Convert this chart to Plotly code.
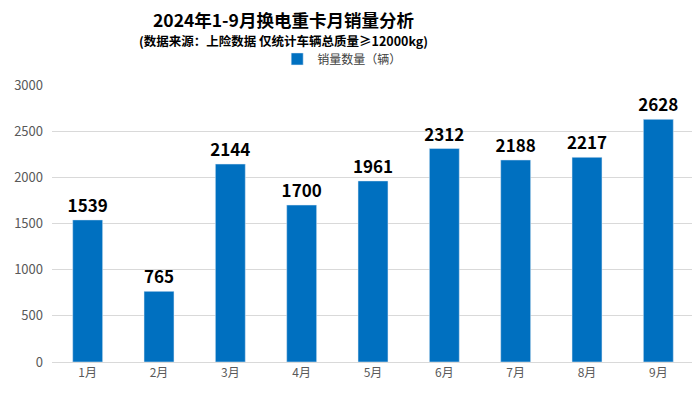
import plotly.graph_objects as go

months = ["1月", "2月", "3月", "4月", "5月", "6月", "7月", "8月", "9月"]
sales = [1539, 765, 2144, 1700, 1961, 2312, 2188, 2217, 2628]
series_name = "销量数量（辆）"
title = "2024年1-9月换电重卡月销量分析"
subtitle = "(数据来源：上险数据 仅统计车辆总质量≥12000kg)"

FONT = "Noto Sans CJK SC, Microsoft YaHei, sans-serif"

fig = go.Figure()
fig.add_trace(go.Bar(
    x=months, y=sales, name=series_name,
    marker=dict(color="#0070C0"),
    width=0.42,
    text=[str(v) for v in sales],
    textposition="outside",
    constraintext="none",
    textfont=dict(size=17, color="#000000", family=FONT, weight="bold"),
    cliponaxis=False,
))

fig.update_layout(
    width=700, height=399,
    margin=dict(l=44, r=14, t=77, b=45, autoexpand=False),
    paper_bgcolor="white", plot_bgcolor="white",
    font=dict(family=FONT, color="#595959", size=12),
    showlegend=True,
    legend=dict(orientation="h", x=0.452, xanchor="center",
                y=1.094, yanchor="middle",
                font=dict(size=12, color="#404040"), itemwidth=30),
    annotations=[
        dict(text=title, x=0.36, y=1.236, xref="paper", yref="paper",
             xanchor="center", yanchor="middle",
             showarrow=False, font=dict(size=17.5, color="#000000", family=FONT, weight="bold")),
        dict(text=subtitle, x=0.36, y=1.16, xref="paper", yref="paper",
             xanchor="center", yanchor="middle",
             showarrow=False, font=dict(size=12.5, color="#000000", family=FONT, weight="bold")),
    ],
)
fig.update_xaxes(showgrid=False, showline=True, linecolor="#D9D9D9", ticks="",
                 automargin=False, tickfont=dict(size=12, color="#595959"))
fig.update_yaxes(range=[0, 3000], dtick=500, showgrid=True, gridcolor="#D9D9D9",
                 zeroline=False, showline=False, ticks="", automargin=False,
                 tickfont=dict(size=13, color="#595959"), ticklabelstandoff=8)

fig.write_html("out.html")
